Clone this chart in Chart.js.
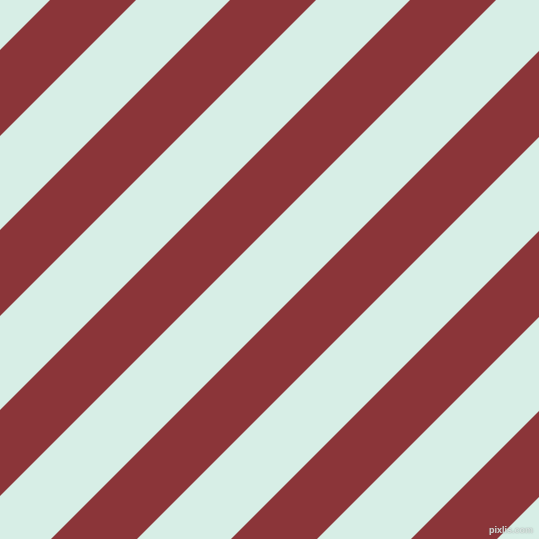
<!DOCTYPE html>
<html>
<head>
<meta charset="utf-8">
<script src="https://cdn.jsdelivr.net/npm/chart.js@4"></script>
<style>
  html, body { margin: 0; padding: 0; background: #d7eee6; }
  #stripes { display: block; }
</style>
</head>
<body>
<canvas id="stripes" width="539" height="539"></canvas>
<script>
// each red stripe covers x + y between start and end (pixels from top-left)
const stripeStart = [50, 230, 410, 590, 770, 950];
const stripeEnd   = [136, 316, 496, 676, 856, 1036];
const SIZE = 539;

const RED   = '#8b3539';
const LIGHT = '#d7eee6';

function edge(c) {
  return [{ x: 0, y: c }, { x: SIZE, y: c - SIZE }];
}

const datasets = [];
stripeStart.forEach((s, i) => {
  datasets.push({
    data:        edge(s),
    borderWidth: 0,
    pointRadius: 0,
    fill:        false
  });
  datasets.push({
    data:            edge(stripeEnd[i]),
    borderWidth:     0,
    pointRadius:     0,
    backgroundColor: RED,
    fill:            '-1'
  });
});

const watermark = {
  id: 'watermark',
  afterDraw(chart) {
    const ctx = chart.ctx;
    ctx.save();
    ctx.font = 'bold 9px "Liberation Sans", Arial, sans-serif';
    ctx.textAlign = 'right';
    ctx.textBaseline = 'alphabetic';
    ctx.shadowColor = 'rgba(90,90,90,0.7)';
    ctx.shadowBlur = 1.5;
    ctx.fillStyle = 'rgba(225,235,232,0.85)';
    ctx.fillText('pixlis.com', 533, 533);
    ctx.restore();
  }
};

new Chart(document.getElementById('stripes').getContext('2d'), {
  type: 'line',
  data: { datasets },
  options: {
    responsive: false,
    animation:  false,
    layout:     { padding: 0 },
    plugins: {
      legend:  { display: false },
      tooltip: { enabled: false }
    },
    scales: {
      x: { type: 'linear', min: 0, max: SIZE, display: false },
      y: { type: 'linear', min: 0, max: SIZE, reverse: true, display: false }
    }
  },
  plugins: [watermark]
});
</script>
</body>
</html>
